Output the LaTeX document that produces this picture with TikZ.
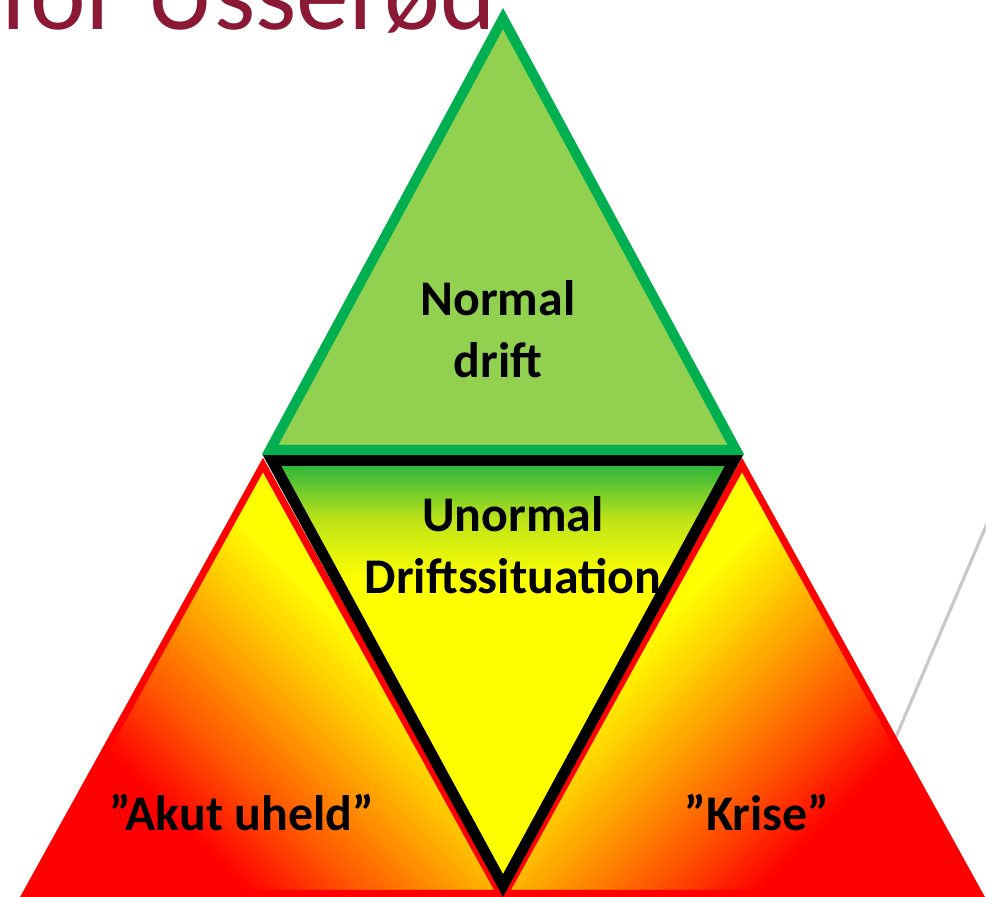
\documentclass[tikz,border=0pt]{standalone}
\usepackage{fontspec}
\setmainfont{Carlito}
\definecolor{titlered}{RGB}{139,24,52}
\definecolor{normalgreen}{RGB}{146,208,80}
\definecolor{edgegreen}{RGB}{0,176,80}
\definecolor{topgreen}{RGB}{34,178,64}
\definecolor{midlime}{RGB}{190,228,24}
\definecolor{alarmyellow}{RGB}{255,255,0}
\definecolor{alarmgold}{RGB}{255,200,0}
\definecolor{alarmorange}{RGB}{255,140,0}
\definecolor{alarmrust}{RGB}{255,80,0}
\definecolor{alarmred}{RGB}{255,0,0}
\definecolor{greyline}{RGB}{200,200,200}
\pgfdeclareverticalshading{unormalfade}{100bp}{color(0bp)=(alarmyellow); color(25bp)=(alarmyellow);
  color(61bp)=(alarmyellow); color(68bp)=(midlime); color(75bp)=(topgreen); color(100bp)=(topgreen)}
\pgfdeclareverticalshading{alarmfade}{100bp}{color(0bp)=(alarmred); color(32bp)=(alarmred);
  color(40bp)=(alarmrust); color(47bp)=(alarmorange); color(54bp)=(alarmgold);
  color(61bp)=(alarmyellow); color(100bp)=(alarmyellow)}
\tikzset{
  greenedge/.style={draw=edgegreen, line width=2.85pt, fill=normalgreen},
  blackedge/.style={draw=black, line width=3.1pt, shading=unormalfade},
  rededge/.style={draw=alarmred, line width=2pt, shading=alarmfade},
  labeltext/.style={font=\fontsize{14.2pt}{17.8pt}\selectfont\bfseries, align=center, inner sep=0pt},
  titletext/.style={font=\fontsize{30pt}{34pt}\selectfont, text=titlered, inner sep=0pt},
}
\newcommand*{\AlarmTriangle}[3]{% #1 = name, #2 = apex x, #3 = shading angle
\shadedraw[rededge, shading angle=#3]
  (#2,465) coordinate (#1) -- (#2-237,893.5) -- (#2+237,893.5) -- cycle;
}

\begin{document}
\begin{tikzpicture}[x=0.1mm, y=-0.1mm]
  \useasboundingbox (0,0) rectangle (986,897);
  \clip (0,0) rectangle (986,897);

  \node[titletext, anchor=base west] (title) at (0,29) {for Usserød};

  \coordinate (greytop) at (992,512);
  \coordinate (greyfoot) at (896,737);
  \draw[greyline, line width=0.9pt] (greytop) -- (greyfoot);

  \AlarmTriangle{akut}{263}{-45}
  \AlarmTriangle{krise}{742}{45}
  \shadedraw[blackedge] (272,460.5) -- (734,460.5) -- (503,885.5) -- cycle;
  \filldraw[greenedge] (503,18.5) -- (736,450) -- (270,450) -- cycle;

  \node[labeltext] (normal) at (498,329) {Normal\\drift};
  \node[labeltext] (unormal) at (513,545) {Unormal\\Driftssituation};
  \node[labeltext, anchor=base] (uheld) at (242,830) {”Akut uheld”};
  \node[labeltext, anchor=base] (krisetext) at (757,830) {”Krise”};
\end{tikzpicture}
\end{document}
